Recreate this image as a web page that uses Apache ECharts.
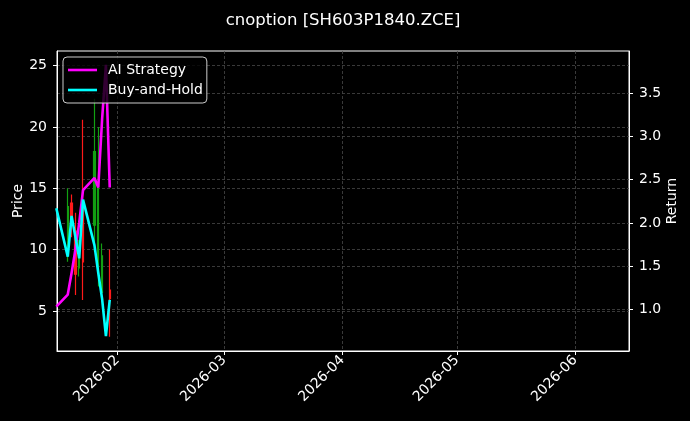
<!DOCTYPE html>
<html>
<head>
<meta charset="utf-8">
<script src="https://cdn.jsdelivr.net/npm/echarts@6/dist/echarts.min.js"></script>
<style>
html,body{margin:0;padding:0;background:#000;}
#chart{width:690px;height:421px;}
</style>
</head>
<body>
<div id="chart"></div>
<script>
// ---- data ----
const titleText = 'cnoption [SH603P1840.ZCE]';
const lineDates = ['2026-01-16','2026-01-19','2026-01-20','2026-01-21','2026-01-22','2026-01-23','2026-01-26','2026-01-27','2026-01-28','2026-01-29','2026-01-30'];
const aiStrategy = [1.03, 1.17, 1.42, 1.69, 2.00, 2.38, 2.52, 2.41, 3.20, 3.83, 2.41];
const buyHold    = [2.17, 1.61, 2.08, 1.84, 1.59, 2.27, 1.74, 1.42, 1.12, 0.69, 1.11];

const candleDates = ['2026-01-19','2026-01-20','2026-01-21','2026-01-22','2026-01-23','2026-01-26','2026-01-27','2026-01-28','2026-01-30'];
const candleOpen  = [10.5, 13.8, 11.5,  8.5, 14.0, 12.0,  9.0, 6.5, 6.7];
const candleClose = [13.5, 12.0,  8.0, 10.0,  9.0, 18.0, 15.0, 9.5, 6.0];
const candleLow   = [ 9.0, 11.0,  6.3,  7.8,  5.9,  9.8,  7.0, 6.1, 2.9];
const candleHigh  = [15.0, 14.5, 13.0, 10.8, 20.6, 22.3, 20.0, 10.5, 10.0];

const priceTicks  = [5, 10, 15, 20, 25];
const returnTicks = [1.0, 1.5, 2.0, 2.5, 3.0, 3.5];
const xMin = '2026-01-16T04:19:00';
const xMax = '2026-06-15T02:10:00';
const priceRange  = [1.73, 26.2];
const returnRange = [0.517, 3.99];

// ---- build ----
const toT = s => new Date(s.length === 10 ? s + 'T00:00:00' : s).getTime();
const candleData = candleDates.map((d, i) => [toT(d), candleOpen[i], candleClose[i], candleLow[i], candleHigh[i]]);
const aiData = lineDates.map((d, i) => [toT(d), aiStrategy[i]]);
const bhData = lineDates.map((d, i) => [toT(d), buyHold[i]]);

const FONT = 'DejaVu Sans';
const gridLine = { show: true, lineStyle: { color: '#474747', type: [3, 2], width: 0.8 } };
const pad2 = n => (n < 10 ? '0' : '') + n;

const chart = echarts.init(document.getElementById('chart'), null, { renderer: 'canvas' });
chart.setOption({
  backgroundColor: '#000',
  animation: false,
  textStyle: { fontFamily: FONT },
  title: {
    text: titleText, left: 338, top: 7, textAlign: 'center',
    textStyle: { color: '#fff', fontSize: 16.5, fontWeight: 'normal', fontFamily: FONT }
  },
  legend: {
    orient: 'vertical', left: 63, top: 57,
    data: [{ name: 'AI Strategy', icon: 'rect' }, { name: 'Buy-and-Hold', icon: 'rect' }],
    itemWidth: 29, itemHeight: 2.6, itemGap: 6,
    padding: [6, 4, 6, 5],
    borderColor: '#cccccc', borderWidth: 1, borderRadius: 4,
    backgroundColor: 'rgba(0,0,0,0.8)',
    textStyle: { color: '#fff', fontSize: 14, fontFamily: FONT, padding: [0, 0, 0, 6] }
  },
  grid: {
    left: 57, right: 61, top: 51, bottom: 70,
    containLabel: false, outerBoundsMode: 'none',
    show: true, borderColor: '#fff', borderWidth: 1, backgroundColor: 'transparent'
  },
  xAxis: {
    type: 'time', min: toT(xMin), max: toT(xMax),
    minInterval: 28 * 86400000, maxInterval: 31 * 86400000,
    axisLine: { show: true, lineStyle: { color: '#fff' } },
    axisTick: { show: true, length: 4, lineStyle: { color: '#fff' } },
    axisLabel: {
      color: '#fff', fontSize: 14, fontFamily: FONT, rotate: 45, margin: 7,
      hideOverlap: false,
      formatter: v => { const d = new Date(v); return d.getFullYear() + '-' + pad2(d.getMonth() + 1); }
    },
    splitLine: gridLine
  },
  yAxis: [
    {
      type: 'value', position: 'left', min: priceRange[0], max: priceRange[1],
      name: 'Price', nameLocation: 'middle', nameGap: 32, nameMoveOverlap: false,
      nameTextStyle: { color: '#fff', fontSize: 14, fontFamily: FONT },
      axisLine: { show: true, onZero: false, lineStyle: { color: '#fff' } },
      axisTick: { show: true, length: 4, lineStyle: { color: '#fff' }, customValues: priceTicks },
      axisLabel: { color: '#fff', fontSize: 14, fontFamily: FONT, margin: 10, customValues: priceTicks },
      splitLine: gridLine
    },
    {
      type: 'value', position: 'right', min: returnRange[0], max: returnRange[1],
      name: 'Return', nameLocation: 'middle', nameGap: 36, nameMoveOverlap: false,
      nameTextStyle: { color: '#fff', fontSize: 14, fontFamily: FONT },
      axisLine: { show: true, onZero: false, lineStyle: { color: '#fff' } },
      axisTick: { show: true, length: 4, lineStyle: { color: '#fff' }, customValues: returnTicks },
      axisLabel: { color: '#fff', fontSize: 14, fontFamily: FONT, margin: 10, customValues: returnTicks,
                   formatter: v => v.toFixed(1) },
      splitLine: gridLine
    }
  ],
  series: [
    {
      type: 'candlestick', name: 'Price', yAxisIndex: 0,
      data: candleData, encode: { x: 0, y: [1, 2, 3, 4] },
      barWidth: 1.8,
      itemStyle: { color: '#12a012', color0: '#ff1a1a', borderColor: '#12a012', borderColor0: '#ff1a1a', borderWidth: 1.2 },
      z: 1
    },
    {
      type: 'line', name: 'AI Strategy', yAxisIndex: 1, data: aiData,
      symbol: 'none', showSymbol: false,
      lineStyle: { color: '#ff00ff', width: 2.6 }, itemStyle: { color: '#ff00ff' }, z: 3
    },
    {
      type: 'line', name: 'Buy-and-Hold', yAxisIndex: 1, data: bhData,
      symbol: 'none', showSymbol: false,
      lineStyle: { color: '#00ffff', width: 2.6 }, itemStyle: { color: '#00ffff' }, z: 4
    }
  ]
});
</script>
</body>
</html>
